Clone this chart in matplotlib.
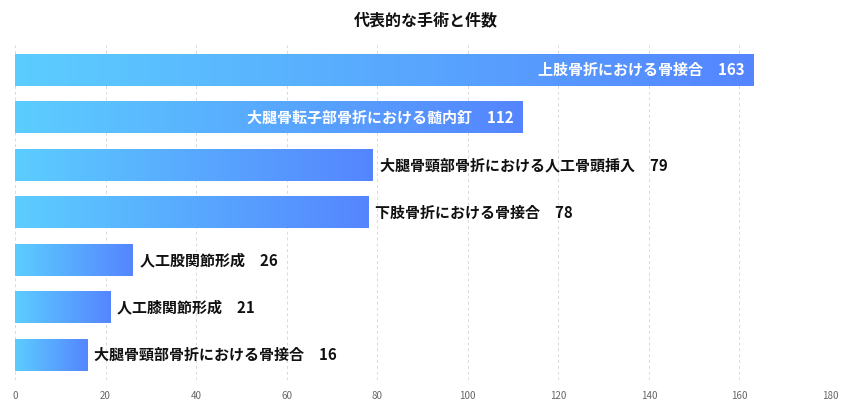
import numpy as np
import matplotlib.pyplot as plt
from matplotlib.colors import LinearSegmentedColormap

plt.rcParams['font.family'] = ['Noto Sans CJK JP', 'DejaVu Sans']

names = ["上肢骨折における骨接合", "大腿骨転子部骨折における髄内釘", "大腿骨頸部骨折における人工骨頭挿入",
         "下肢骨折における骨接合", "人工股関節形成", "人工膝関節形成", "大腿骨頸部骨折における骨接合"]
counts = [163, 112, 79, 78, 26, 21, 16]
ticks = [0, 20, 40, 60, 80, 100, 120, 140, 160, 180]

cmap = LinearSegmentedColormap.from_list("bar", ["#5ccdff", "#5585fe"])
grad = np.linspace(0, 1, 256).reshape(1, -1)

fig = plt.figure(figsize=(8.52, 4.03), dpi=100)
ax = fig.add_axes([15 / 852, 1 - 380 / 403, 815 / 852, 335 / 403])

h = 0.66
for i, (n, v) in enumerate(zip(names, counts)):
    ax.imshow(grad, cmap=cmap, aspect="auto", extent=[0, v, i + h / 2, i - h / 2], zorder=2)
    label = n + "\u3000" + str(v)
    if v >= 100:
        ax.annotate(label, (v, i), xytext=(-6, 0), textcoords="offset points", ha="right", va="center",
                    color="white", fontsize=10.8, fontweight="bold", zorder=3)
    else:
        ax.annotate(label, (v, i), xytext=(5, 0), textcoords="offset points", ha="left", va="center",
                    color="#111111", fontsize=10.8, fontweight="bold", zorder=3)

ax.set_xlim(0, 180)
ax.set_ylim(6 + 0.526, -0.526)
ax.set_xticks(ticks)
ax.set_yticks([])
ax.tick_params(axis="x", length=0, labelsize=7, labelcolor="#666666", pad=8)
ax.grid(axis="x", color="#d9d9d9", linestyle=(0, (3, 3)), linewidth=0.7, zorder=0)
for s in ax.spines.values():
    s.set_visible(False)

fig.suptitle("代表的な手術と件数", y=1 - 20 / 403, va="center", fontsize=11.5, fontweight="bold", color="#111111")

plt.savefig("out.png", dpi=100)
